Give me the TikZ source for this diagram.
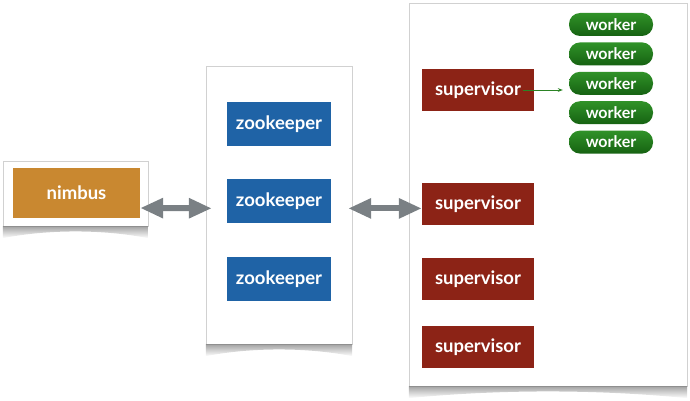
\documentclass[tikz,border=0pt]{standalone}
\usepackage{fontspec}
\setmainfont{Lato}
\usetikzlibrary{positioning,arrows.meta}

\definecolor{nimbusorange}{RGB}{201,136,48}
\definecolor{zkblue}{RGB}{31,99,166}
\definecolor{supred}{RGB}{140,35,22}
\definecolor{workgreen}{RGB}{48,146,40}
\definecolor{workdark}{RGB}{22,98,18}
\definecolor{arrowgray}{RGB}{122,128,132}

\begin{document}
\begin{tikzpicture}[x=1pt,y=-1pt,
    panel/.style={draw=black!18,fill=white,inner sep=0pt},
    curl/.style={top color=black!60,bottom color=white,draw=none,opacity=.6},
    box/.style={fill=#1,text=white,inner sep=0pt,font=\fontsize{18.5}{22}\selectfont\bfseries},
    worker/.style={top color=workgreen,bottom color=workdark,rounded corners=11pt,
        minimum width=84pt,minimum height=23pt,inner sep=0pt,text=white,
        font=\fontsize{16}{18}\selectfont\bfseries},
    bigarrow/.style={line width=6pt,draw=arrowgray,
        {Triangle[width=19pt,length=23pt]}-{Triangle[width=19pt,length=23pt]}},
    workarrow/.style={draw=workgreen!90!black,thick,-{Stealth[length=5pt]}}]

    \useasboundingbox (0,0) rectangle (690,401);

    % panels
    \node[panel,minimum width=145pt,minimum height=65pt] (leftpanel) at (75.5,193.5) {};
    \node[panel,minimum width=146pt,minimum height=278pt] (midpanel) at (279,205) {};
    \node[panel,minimum width=278pt,minimum height=383pt] (rightpanel) at (548,194.5) {};

    % curled shadows under the panels
    \shade[curl] (leftpanel.south west) -- (leftpanel.south east) -- ++(0,12)
        .. controls +(-45,-9) and +(45,-9) .. ([yshift=-12pt]leftpanel.south west) -- cycle;
    \shade[curl] (midpanel.south west) -- (midpanel.south east) -- ++(0,12)
        .. controls +(-45,-9) and +(45,-9) .. ([yshift=-12pt]midpanel.south west) -- cycle;
    \shade[curl] (rightpanel.south west) -- (rightpanel.south east) -- ++(0,12)
        .. controls +(-90,-9) and +(90,-9) .. ([yshift=-12pt]rightpanel.south west) -- cycle;

    % nimbus
    \node[box=nimbusorange,minimum width=127pt,minimum height=50pt] (nimbus) at (76.5,193) {nimbus};

    % zookeepers
    \node[box=zkblue,minimum width=104pt,minimum height=44pt] (zk1) at (279,124) {zookeeper};
    \node[box=zkblue,minimum width=104pt,minimum height=44pt,below=33pt of zk1] (zk2) {zookeeper};
    \node[box=zkblue,minimum width=104pt,minimum height=44pt,below=33pt of zk2] (zk3) {zookeeper};

    % supervisors
    \node[box=supred,minimum width=112pt,minimum height=42pt] (sup1) at (478,90) {supervisor};
    \node[box=supred,minimum width=112pt,minimum height=42pt,below=72pt of sup1] (sup2) {supervisor};
    \node[box=supred,minimum width=112pt,minimum height=42pt,below=32pt of sup2] (sup3) {supervisor};
    \node[box=supred,minimum width=112pt,minimum height=42pt,below=26pt of sup3] (sup4) {supervisor};

    % workers
    \node[worker] (w1) at (611,24.5) {worker};
    \node[worker,below=6pt of w1] (w2) {worker};
    \node[worker,below=6pt of w2] (w3) {worker};
    \node[worker,below=6pt of w3] (w4) {worker};
    \node[worker,below=6pt of w4] (w5) {worker};

    \path ([xshift=-11pt]sup1.east) edge [workarrow,shorten >=6pt] (sup1.east -| w3.west);
    \path ([yshift=-15pt]nimbus.east) edge [bigarrow,shorten >=15pt] ([yshift=-7pt]zk2.west);
    \path ([yshift=-7pt]zk2.east) edge [bigarrow,shorten <=17pt] ([yshift=-4pt]sup2.west);
\end{tikzpicture}
\end{document}
